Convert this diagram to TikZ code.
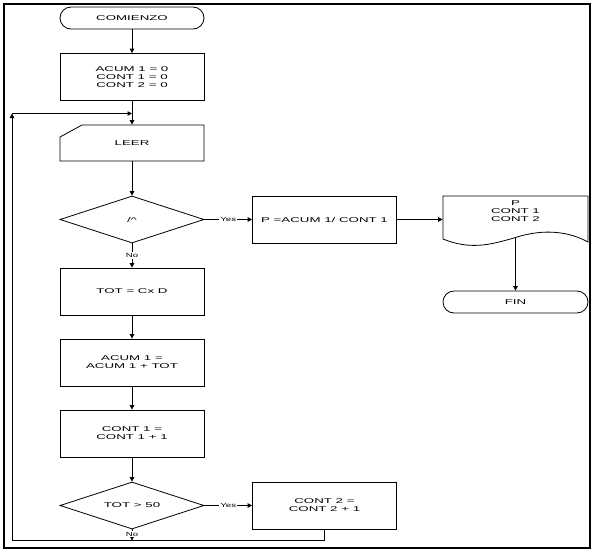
\documentclass[tikz,border=0pt]{standalone}
\usepackage{fontspec}
\newfontfamily\chartfont[FakeStretch=1.9]{Liberation Sans}
\newfontfamily\tagfont[FakeStretch=1.6]{Liberation Sans}
\usetikzlibrary{arrows.meta,shapes.geometric}
\tikzset{box/.style={draw,line width=.8pt,minimum width=144pt,minimum height=47pt,
    inner sep=0pt,align=center,font=\chartfont\fontsize{7}{8}\selectfont},
  term/.style={box,rounded corners=11pt,minimum height=22pt},
  cond/.style={box,diamond,aspect=3},
  wire/.style={line width=.8pt},
  flow/.style={wire,-{Triangle[length=4.5pt,width=4.5pt]}},
  lbl/.style={fill=white,inner sep=1pt,font=\tagfont\fontsize{6}{7}\selectfont}}

\begin{document}
\begin{tikzpicture}[x=1pt,y=-1pt]
\useasboundingbox (0,0) rectangle (594,552);
\draw[line width=1.3pt] (4,4) rectangle (590,548);

% Main column.
\node[term] (start) at (132,18) {COMIENZO};
\node[box] (init) at (132,77) {ACUM 1 = 0\\CONT 1 = 0\\CONT 2 = 0};
\node[box,draw=none,minimum height=36pt] (leer) at (132,143) {LEER};
\draw[wire] (60,161) -- (60,137) -- (82,125) -- (204,125) -- (204,161) -- cycle;
\node[cond] (dec1) at (132,219.5) {/\textasciicircum};
\node[box] (tot) at (132,291.5) {TOT = Cx D};
\node[box] (acum) at (132,362.5) {ACUM 1 =\\ACUM 1 + TOT};
\node[box] (cntA) at (132,433.5) {CONT 1 =\\CONT 1 + 1};
\node[cond] (dec2) at (132,505.5) {TOT > 50};

% Right branches.
\node[box] (calcP) at (324.5,219.5) {P =ACUM 1/ CONT 1};
\node[box,draw=none,minimum height=0pt,minimum width=145pt,anchor=north]
  (docP) at (515.5,200) {P\\CONT 1\\CONT 2};
\draw[wire] (443,196) -- (588,196) -- (588,242)
  .. controls (570,232) and (545,228) .. (515.5,237.5)
  .. controls (490,245) and (470,250) .. (443,239) -- cycle;
\coordinate (docout) at (515.5,237.5);
\node[term,minimum width=145pt] (fin) at (515.5,302) {FIN};
\node[box] (cntB) at (324.5,505.5) {CONT 2 =\\CONT 2 + 1};

% Loop back to LEER.
\coordinate (loopB) at (12,540.5);
\coordinate (loopT) at (12,113.5);
\coordinate (merge) at (132,113.5);
\coordinate (jn) at (132,540.5);

\draw[flow] (start) -- (init);
\draw[flow] (init) -- (leer);
\draw[flow] (leer) -- (dec1);
\draw[flow] (dec1) -- node[lbl]{No} (tot);
\draw[flow] (dec1) -- node[lbl]{Yes} (calcP);
\draw[flow] (calcP.east) -- (calcP.east -| docP.west);
\draw[flow] (docout) -- (fin);
\draw[flow] (tot) -- (acum);
\draw[flow] (acum) -- (cntA);
\draw[flow] (cntA) -- (dec2);
\draw[flow] (dec2) -- node[lbl]{Yes} (cntB);
\draw[flow] (dec2) -- node[lbl,pos=.45]{No} (jn);
\draw[flow] (cntB) |- (loopB) -- (loopT);
\draw[flow] (loopT) -- (merge);
\end{tikzpicture}
\end{document}
